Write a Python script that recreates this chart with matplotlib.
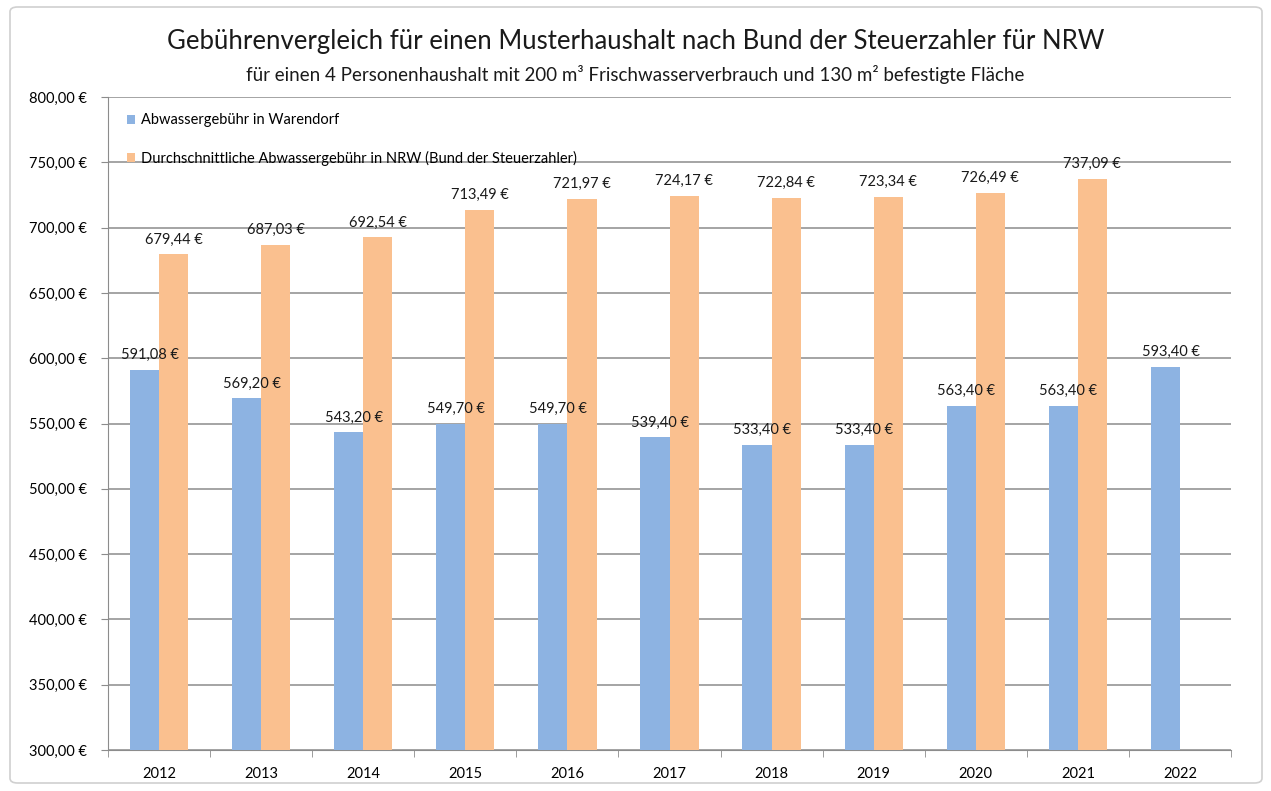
import matplotlib.pyplot as plt
import numpy as np
from matplotlib.patches import FancyBboxPatch

plt.rcParams['font.family'] = ['Lato', 'DejaVu Sans']

years = ['2012', '2013', '2014', '2015', '2016', '2017', '2018', '2019', '2020', '2021', '2022']
warendorf = [591.08, 569.20, 543.20, 549.70, 549.70, 539.40, 533.40, 533.40, 563.40, 563.40, 593.40]
nrw = [679.44, 687.03, 692.54, 713.49, 721.97, 724.17, 722.84, 723.34, 726.49, 737.09, None]

label_w = 'Abwassergebühr in Warendorf'
label_n = 'Durchschnittliche Abwassergebühr in NRW (Bund der Steuerzahler)'
col_w = '#8db3e2'
col_n = '#fac08f'
grid_col = '#8c8c8c'


def euro(v):
    return f'{v:,.2f} €'.replace(',', 'X').replace('.', ',').replace('X', '.')


fig = plt.figure(figsize=(12.71, 7.91), dpi=100)
ax = fig.add_axes([108 / 1271, 1 - 750 / 791, (1231 - 108) / 1271, (750 - 97) / 791])

# rahmen um das diagramm
frame = FancyBboxPatch((10 / 1271, 8 / 791), 1252 / 1271, 776 / 791,
                       boxstyle='round,pad=0,rounding_size=0.006',
                       transform=fig.transFigure, facecolor='white',
                       edgecolor='#d0d0d0', linewidth=1.2, zorder=-10)
fig.patches.append(frame)

x = np.arange(len(years))
bw = 0.285
b1 = ax.bar(x - bw / 2, warendorf, bw, color=col_w, label=label_w, zorder=3)
nx = [i for i, v in enumerate(nrw) if v is not None]
nv = [v for v in nrw if v is not None]
b2 = ax.bar(np.array(nx) + bw / 2, nv, bw, color=col_n, label=label_n, zorder=3)

for xi, v in zip(x, warendorf):
    ax.text(xi - bw / 2 + 0.05, v + 6, euro(v), ha='center', va='bottom', fontsize=10.5, color='#1a1a1a', zorder=4)
for xi, v in zip(nx, nv):
    ax.text(xi + bw / 2, v + 6, euro(v), ha='center', va='bottom', fontsize=10.5, color='#1a1a1a', zorder=4)

ax.set_ylim(300, 800)
ax.set_xlim(-0.5, len(years) - 0.5)
ax.set_yticks(np.arange(300, 801, 50))
ax.set_yticklabels([euro(v) for v in np.arange(300, 801, 50)], fontsize=10.5)
ax.yaxis.grid(True, color=grid_col, linewidth=1.1, zorder=0)
ax.set_axisbelow(True)

ax.set_xticks(x)
ax.set_xticklabels(years, fontsize=10.5)
ax.tick_params(axis='x', length=0, pad=12)
ax.set_xticks(np.arange(-0.5, len(years)), minor=True)
ax.tick_params(axis='x', which='minor', length=5, color=grid_col)
ax.tick_params(axis='y', length=5, color=grid_col, pad=10)

for s in ['top', 'right']:
    ax.spines[s].set_visible(False)
ax.spines['left'].set_color(grid_col)
ax.spines['bottom'].set_color(grid_col)

fig.text(0.5, 1 - 42 / 791, 'Gebührenvergleich für einen Musterhaushalt nach Bund der Steuerzahler für NRW',
         ha='center', va='center', fontsize=18.5, color='#1a1a1a')
fig.text(0.5, 1 - 75 / 791, 'für einen 4 Personenhaushalt mit 200 m³ Frischwasserverbrauch und 130 m² befestigte Fläche',
         ha='center', va='center', fontsize=13.5, color='#1a1a1a')

ax.legend(loc='upper left', bbox_to_anchor=(0.005, 0.995), frameon=False, fontsize=10.5,
          handlelength=0.6, handleheight=0.6, handletextpad=0.4, labelspacing=1.6)

fig.savefig('out.png', dpi=100)
